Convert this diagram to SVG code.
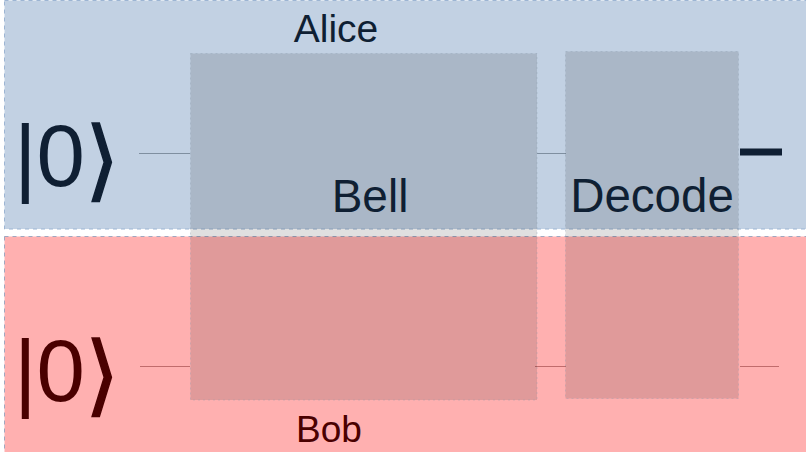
<svg xmlns="http://www.w3.org/2000/svg" width="806" height="452" viewBox="0 0 806 452">
<style>
.lane{stroke-width:1;stroke-dasharray:4 4}
.box{fill:#000;fill-opacity:0.12;stroke:#8a9ab0;stroke-opacity:0.35;stroke-width:1;stroke-dasharray:2 3}
.lbl{font-family:"Liberation Sans",Arial,sans-serif}
.ket{font-family:"Liberation Sans","DejaVu Sans",sans-serif;font-size:87px}
.br{font-family:"DejaVu Sans",sans-serif;font-size:88px;stroke-width:1.4}
.wa{stroke:#7f8fa0;stroke-width:1;fill:none}
.wb{stroke:#c06c6c;stroke-width:1;fill:none}
</style>
<rect width="806" height="452" fill="#ffffff"/>
<g id="alice">
<rect class="lane" x="4.5" y="0.5" width="810" height="228.5" fill="#c2d1e3" stroke="#9db5d3"/>
<text class="lbl" x="336" y="42" font-size="39" text-anchor="middle" fill="#0f1f33">Alice</text>
<text class="ket" fill="#0f1f33"><tspan x="14" y="186">|</tspan><tspan x="36.6" y="186">0</tspan><tspan class="br" x="85" y="190" stroke="#0f1f33">⟩</tspan></text>
</g>
<g id="bob">
<rect class="lane" x="4.5" y="236.5" width="810" height="220" fill="#ffb0b0" stroke="#a0a8c0"/>
<text class="lbl" x="329" y="442" font-size="37" text-anchor="middle" fill="#4a0000">Bob</text>
<text class="ket" fill="#4a0000"><tspan x="14" y="401">|</tspan><tspan x="36.6" y="401">0</tspan><tspan class="br" x="85" y="405" stroke="#4a0000">⟩</tspan></text>
</g>
<g id="connectors">
<line class="wa" x1="139" y1="153.5" x2="190" y2="153.5"/>
<line class="wa" x1="537" y1="153.5" x2="566" y2="153.5"/>
<line x1="740" y1="152" x2="782" y2="152" stroke="#0f1f33" stroke-width="7"/>
<line class="wb" x1="140" y1="366.5" x2="190" y2="366.5"/>
<line class="wb" x1="535" y1="366.5" x2="566" y2="366.5"/>
<line class="wb" x1="740" y1="366.5" x2="779" y2="366.5"/>
</g>
<g id="bell">
<rect class="box" x="190.5" y="53.5" width="346.5" height="346.5"/>
<text class="lbl" x="370" y="212" font-size="46" text-anchor="middle" fill="#0f1f33">Bell</text>
</g>
<g id="decode">
<rect class="box" x="565.5" y="51.5" width="173" height="347"/>
<text class="lbl" x="652" y="212" font-size="47.5" text-anchor="middle" fill="#0f1f33">Decode</text>
</g>
</svg>
